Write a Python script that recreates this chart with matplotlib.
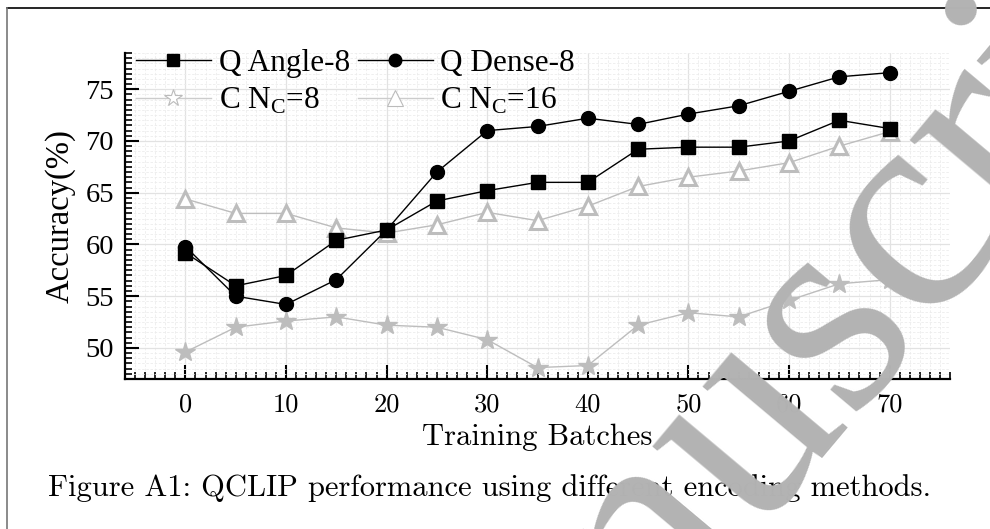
import matplotlib
matplotlib.use("Agg")
import matplotlib.pyplot as plt
from matplotlib.lines import Line2D
from matplotlib.ticker import MultipleLocator

batches = [0, 5, 10, 15, 20, 25, 30, 35, 40, 45, 50, 55, 60, 65, 70]
q_angle = [59.2, 56.0, 57.0, 60.4, 61.4, 64.2, 65.2, 66.0, 66.0, 69.2, 69.4, 69.4, 70.0, 72.0, 71.2]
q_dense = [59.8, 55.0, 54.2, 56.6, 61.4, 67.0, 71.0, 71.4, 72.2, 71.6, 72.6, 73.4, 74.8, 76.2, 76.6]
c_nc8 = [49.6, 52.0, 52.6, 53.0, 52.2, 52.0, 50.8, 48.1, 48.3, 52.2, 53.4, 53.0, 54.6, 56.2, 56.6]
c_nc16 = [64.4, 63.0, 63.0, 61.6, 61.1, 61.9, 63.1, 62.3, 63.7, 65.6, 66.5, 67.1, 67.9, 69.5, 70.9]

legend_labels = ["Q Angle-8", "Q Dense-8", r"C N$_\mathregular{C}$=8", r"C N$_\mathregular{C}$=16"]
caption = "Figure A1: QCLIP performance using different encoding methods."

serif = "Liberation Serif"
cm = "cmr10"
gray = "#bdbdbd"

fig = plt.figure(figsize=(9.9, 5.29), dpi=100)
ax = fig.add_axes([0.1263, 0.2836, 0.8333, 0.6162])

ax.plot(batches, q_angle, color="black", lw=1.0, marker="s", ms=9.5, zorder=5)
ax.plot(batches, q_dense, color="black", lw=1.0, marker="o", ms=10, zorder=5)
ax.plot(batches, c_nc8, color=gray, lw=1.0, marker="*", ms=15, mfc=gray, mec=gray, zorder=4)
ax.plot(batches, c_nc16, color=gray, lw=1.0, marker="^", ms=11, mfc="white", mec=gray, mew=2.2, zorder=4)

ax.set_xlim(-6, 76)
ax.set_ylim(47, 78.5)
ax.xaxis.set_major_locator(MultipleLocator(10))
ax.xaxis.set_minor_locator(MultipleLocator(1))
ax.yaxis.set_major_locator(MultipleLocator(5))
ax.yaxis.set_minor_locator(MultipleLocator(0.5))

ax.grid(which="major", color="#e2e2e2", lw=0.9, ls="-")
ax.grid(which="minor", color="#ececec", lw=0.6, ls=(0, (3, 2)))
ax.set_axisbelow(True)

for side in ["top", "right"]:
    ax.spines[side].set_visible(False)
for side in ["left", "bottom"]:
    ax.spines[side].set_linewidth(1.6)

ax.tick_params(which="major", direction="in", length=10, width=1.5, labelsize=20.5)
ax.tick_params(which="minor", direction="in", length=5, width=1.2)
ax.tick_params(axis="x", pad=10)
ax.tick_params(axis="y", pad=8)

for lbl in ax.get_yticklabels():
    lbl.set_fontfamily(serif)
for lbl in ax.get_xticklabels():
    lbl.set_fontfamily(cm)
    lbl.set_fontsize(19)

ax.set_ylabel("Accuracy(%)", fontfamily=serif, fontsize=23.5, labelpad=7)
ax.set_xlabel("Training Batches", fontfamily=cm, fontsize=22, labelpad=5)

handles = [
    Line2D([], [], color="black", lw=1.0, marker="s", ms=9),
    Line2D([], [], color="black", lw=1.0, marker="o", ms=9),
    Line2D([], [], color="#cccccc", lw=1.0, marker="*", ms=13, mfc="white", mec="#bbbbbb", mew=0.8),
    Line2D([], [], color="#cccccc", lw=1.0, marker="^", ms=11, mfc="white", mec="#bbbbbb", mew=0.8),
]
order = [0, 2, 1, 3]
leg = ax.legend([handles[i] for i in order], [legend_labels[i] for i in order], ncol=2,
                loc="upper left", bbox_to_anchor=(-0.002, 1.05), frameon=False,
                prop={"family": serif, "size": 22.5}, handlelength=2.4,
                handletextpad=0.25, columnspacing=0.25, labelspacing=0.25, borderaxespad=0)

fig.text(0.494, 0.077, caption, fontfamily=cm, fontsize=22, ha="center", va="center")

# page frame
fig.add_artist(Line2D([7 / 990, 1.0], [1 - 8 / 529] * 2, transform=fig.transFigure, color="black", lw=1.2))
fig.add_artist(Line2D([7 / 990] * 2, [0, 1 - 8 / 529], transform=fig.transFigure, color="#777777", lw=1.2))

# watermark
fig.text(424 / 990, 1 - 926 / 529, "manuscript", fontfamily=serif, fontsize=215, color="#b3b3b3",
         rotation=50, rotation_mode="anchor", ha="left", va="baseline", zorder=10)

fig.savefig("out.png", dpi=100)
